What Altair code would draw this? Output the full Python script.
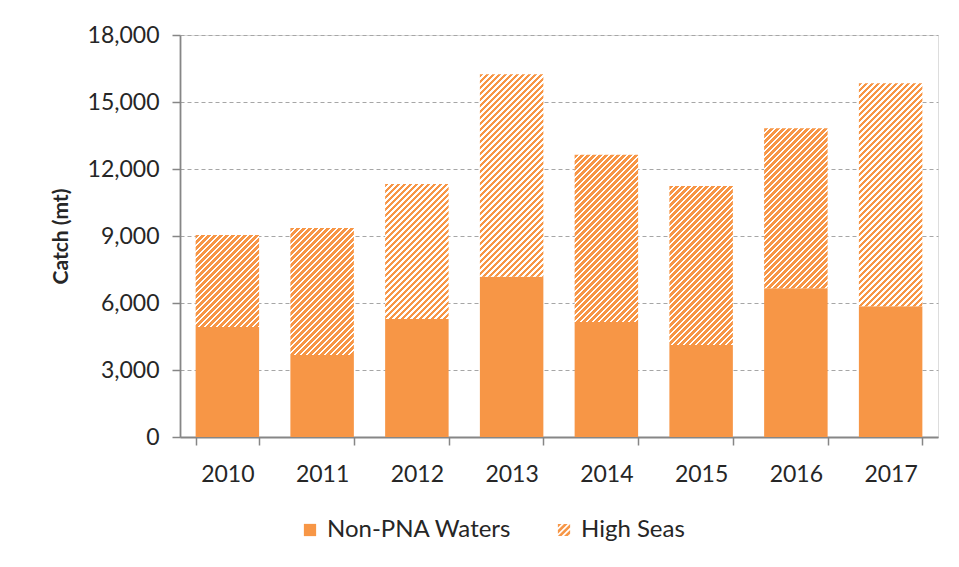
import altair as alt
import pandas as pd

# ---------------- data ----------------
years = ["2010", "2011", "2012", "2013", "2014", "2015", "2016", "2017"]
non_pna = [4930, 3670, 5280, 7170, 5150, 4120, 6660, 5850]
high_seas = [4120, 5690, 6050, 9070, 7490, 7120, 7160, 9990]
series = ["Non-PNA Waters", "High Seas"]
y_ticks = [0, 3000, 6000, 9000, 12000, 15000, 18000]

# ---------------- style ----------------
W, H = 758, 402
ORANGE = "#F79646"
WHITE = "#FFFFFF"
PAD_INNER, PAD_OUTER = 0.33, 0.165
FONT = "Lato"
TEXT = "#262626"
AXIS_GRAY = "#868686"
PERIOD = 6.0      # hatch period (px, measured along a horizontal line)
FRAC = 0.62       # share of orange in a period

df = pd.DataFrame({"year": years, "non_pna": non_pna, "high": high_seas})
df["total"] = df["non_pna"] + df["high"]

step = W / (len(years) - PAD_INNER + 2 * PAD_OUTER)
bar_w = step * (1 - PAD_INNER)


def hatch_gradient(h):
    """Linear gradient with hard stops giving '/' stripes at 45 degrees."""
    w = bar_w
    h = max(h, 1.0)
    s = w + h
    a = w * s / (w * w + h * h)
    b = h * s / (w * w + h * h)
    stops = []
    k = 0
    while k * PERIOD < s + PERIOD:
        o0 = min(k * PERIOD / s, 1.0)
        o1 = min((k + FRAC) * PERIOD / s, 1.0)
        o2 = min((k + 1) * PERIOD / s, 1.0)
        stops += [
            {"offset": o0, "color": ORANGE},
            {"offset": o1, "color": ORANGE},
            {"offset": o1, "color": WHITE},
            {"offset": o2, "color": WHITE},
        ]
        k += 1
    return alt.LinearGradient(gradient="linear", stops=stops, x1=0, y1=0, x2=a, y2=b)


def clip(poly, a, b, c):
    """Keep the part of poly with a*x + b*y <= c."""
    out = []
    n = len(poly)
    for i in range(n):
        p, q = poly[i], poly[(i + 1) % n]
        fp = a * p[0] + b * p[1] - c
        fq = a * q[0] + b * q[1] - c
        if fp <= 0:
            out.append(p)
        if (fp < 0 < fq) or (fq < 0 < fp):
            t = fp / (fp - fq)
            out.append((p[0] + t * (q[0] - p[0]), p[1] + t * (q[1] - p[1])))
    return out


def hatch_symbol(period=1.0, frac=0.6):
    sq = [(-1, -1), (1, -1), (1, 1), (-1, 1)]
    parts = []
    c = -2.0
    while c < 2.0:
        poly = clip(sq, 1, 1, c + frac * period)
        poly = clip(poly, -1, -1, -c)
        if len(poly) >= 3:
            parts.append("M" + "L".join(f"{x:.3f},{y:.3f}" for x, y in poly) + "Z")
        c += period
    return "".join(parts)


x_scale = alt.Scale(domain=years, paddingInner=PAD_INNER, paddingOuter=PAD_OUTER)
y_scale = alt.Scale(domain=[0, 18000], nice=False)

x_enc = alt.X(
    "year:N",
    scale=x_scale,
    title=None,
    axis=alt.Axis(
        labelAngle=0,
        tickBand="extent",
        ticks=True,
        tickSize=8,
        tickColor=AXIS_GRAY,
        tickWidth=1.5,
        domainColor=AXIS_GRAY,
        domainWidth=1.8,
        labelPadding=18,
        labelFontSize=23,
        labelFont=FONT,
        labelColor=TEXT,
        grid=False,
    ),
)

y_enc = alt.Y(
    "non_pna:Q",
    scale=y_scale,
    title="Catch (mt)",
    axis=alt.Axis(
        values=y_ticks,
        format=",d",
        tickSize=8,
        tickColor=AXIS_GRAY,
        tickWidth=1.5,
        domainColor=AXIS_GRAY,
        domainWidth=1.8,
        labelPadding=13,
        labelFontSize=23,
        labelFont=FONT,
        labelColor=TEXT,
        titleFont=FONT,
        titleFontSize=21,
        titleFontWeight="bold",
        titleColor=TEXT,
        titlePadding=16,
        grid=True,
        gridColor="#A6A6A6",
        gridDash=[4, 3],
        gridWidth=1,
    ),
)

solid = alt.Chart(df).mark_bar(color=ORANGE).encode(x=x_enc, y=y_enc)

hatch_layers = []
for yr, lo, hi in zip(years, non_pna, high_seas):
    h_px = hi * H / 18000
    hatch_layers.append(
        alt.Chart(df)
        .transform_filter(alt.datum.year == yr)
        .mark_bar(color=hatch_gradient(h_px))
        .encode(x=alt.X("year:N", scale=x_scale), y=alt.Y("non_pna:Q", scale=y_scale), y2="total:Q")
    )

legend_df = pd.DataFrame({"series": series, "year": [years[0], years[0]], "v": [0, 0]})
legend_spec = alt.Legend(
    title=None,
    orient="none",
    legendX=118,
    legendY=483,
    direction="horizontal",
    columns=2,
    columnPadding=40,
    symbolSize=150,
    symbolOpacity=1,
    symbolStrokeWidth=0,
    labelFont=FONT,
    labelFontSize=24,
    labelColor=TEXT,
    labelOffset=5,
    labelLimit=300,
)
legend_layer = (
    alt.Chart(legend_df)
    .mark_point(filled=True, opacity=0)
    .encode(
        x=alt.X("year:N", scale=x_scale),
        y=alt.Y("v:Q", scale=y_scale),
        color=alt.Color("series:N", scale=alt.Scale(domain=series, range=[ORANGE, ORANGE]), legend=legend_spec),
        shape=alt.Shape("series:N", scale=alt.Scale(domain=series, range=["square", hatch_symbol()]), legend=legend_spec),
    )
)

chart = (
    alt.layer(solid, *hatch_layers, legend_layer)
    .properties(width=W, height=H, padding={"left": 42, "top": 16, "right": 5, "bottom": 5})
    .configure_view(stroke=None)
    .configure(background="white")
)

chart.save("out.html", embed_options={"renderer": "svg", "actions": False})
